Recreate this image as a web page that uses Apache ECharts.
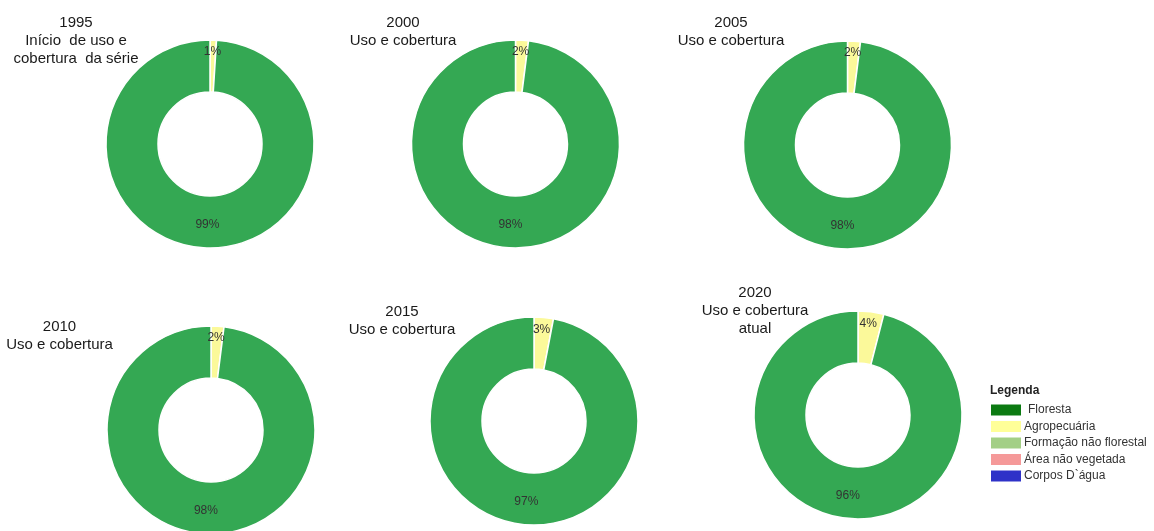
<!DOCTYPE html>
<html>
<head>
<meta charset="utf-8">
<style>
  html, body { margin: 0; padding: 0; background: #ffffff; }
  #chart { width: 1154px; height: 531px; }
</style>
<script src="https://cdn.jsdelivr.net/npm/echarts@6/dist/echarts.min.js"></script>
</head>
<body>
<div id="chart"></div>
<script>
// Land use and land cover share per year (%)
const years = ['1995', '2000', '2005', '2010', '2015', '2020'];
const subtitles = [
  'Início  de uso e\ncobertura  da série',
  'Uso e cobertura',
  'Uso e cobertura',
  'Uso e cobertura',
  'Uso e cobertura',
  'Uso e cobertura\natual'
];
const agropecuaria = [1, 2, 2, 2, 3, 4];
const floresta = [99, 98, 98, 98, 97, 96];

// Legend entries
const legendNames = ['Floresta', 'Agropecuária', 'Formação não florestal', 'Área não vegetada', 'Corpos D`água'];
const legendColors = ['#0b7a12', '#ffff99', '#a3cf86', '#f59999', '#2e32c8'];

// Layout of each donut and its heading
const pieCenters = [[210, 144], [515.5, 144], [847.5, 145], [211, 430], [534, 421], [858, 415]];
const headingPos = [[76, 13.5], [403, 13.5], [731, 13.5], [59.5, 317.5], [402, 303], [755, 283.5]];

const FONT = '"Liberation Sans", Arial, sans-serif';
const SLICE_GREEN = '#34a853';
const SLICE_YELLOW = '#fbf99a';

const series = years.map((y, i) => ({
  type: 'pie',
  name: y,
  center: pieCenters[i],
  radius: [52, 104],
  startAngle: 90,
  clockwise: true,
  silent: true,
  animation: false,
  avoidLabelOverlap: false,
  itemStyle: { borderColor: '#ffffff', borderWidth: 1.5 },
  label: {
    show: true,
    position: 'inside',
    formatter: '{c}%',
    color: '#333333',
    fontFamily: FONT,
    fontSize: 12
  },
  labelLine: { show: false },
  emphasis: { disabled: true },
  data: [
    { name: 'Agropecuária', value: agropecuaria[i], itemStyle: { color: SLICE_YELLOW },
      label: { offset: [0, -11] } },
    { name: 'Floresta', value: floresta[i], itemStyle: { color: SLICE_GREEN } }
  ]
}));

const graphics = [];
years.forEach((y, i) => {
  graphics.push({
    type: 'text',
    x: headingPos[i][0],
    y: headingPos[i][1],
    silent: true,
    style: {
      text: y + '\n' + subtitles[i],
      fill: '#1a1a1a',
      font: '15px ' + FONT,
      lineHeight: 18,
      align: 'center',
      verticalAlign: 'top'
    }
  });
});

graphics.push({
  type: 'text', x: 990, y: 391, silent: true,
  style: { text: 'Legenda', fill: '#222222', font: 'bold 12px ' + FONT, verticalAlign: 'middle' }
});
legendNames.forEach((n, i) => {
  const cy = 410 + i * 16.5;
  graphics.push({
    type: 'rect', silent: true,
    shape: { x: 991, y: cy - 5.5, width: 30, height: 11 },
    style: { fill: legendColors[i] }
  });
  graphics.push({
    type: 'text', x: i === 0 ? 1028 : 1024, y: cy, silent: true,
    style: { text: n, fill: '#333333', font: '12px ' + FONT, verticalAlign: 'middle' }
  });
});

const chart = echarts.init(document.getElementById('chart'), null, { renderer: 'canvas' });
chart.setOption({
  backgroundColor: '#ffffff',
  animation: false,
  series: series,
  graphic: graphics
});
</script>
</body>
</html>
